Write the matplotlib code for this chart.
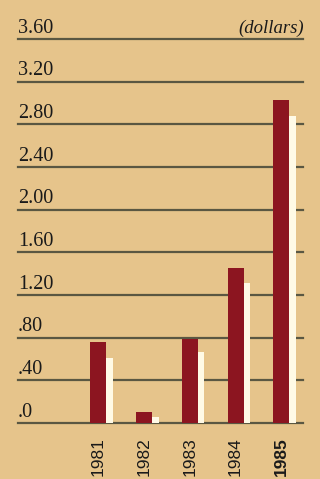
import matplotlib.pyplot as plt
import numpy as np

# ---------------------------------------
# Data
# ---------------------------------------
years = ["1981", "1982", "1983", "1984", "1985"]
series_a = [0.76, 0.10, 0.79, 1.45, 3.03]   # dark bars
series_b = [0.61, 0.06, 0.67, 1.31, 2.88]   # light bars
ytick_vals = [0.0, 0.4, 0.8, 1.2, 1.6, 2.0, 2.4, 2.8, 3.2, 3.6]
ytick_labels = [".0", ".40", ".80", "1.20", "1.60", "2.00", "2.40", "2.80", "3.20", "3.60"]

bg = "#E6C48B"
dark = "#8C1520"
light = "#FFFAE6"
line_col = "#5A5742"

plt.rcParams["font.family"] = ["Liberation Serif", "DejaVu Serif"]

fig = plt.figure(figsize=(3.2, 4.79), dpi=100, facecolor=bg)
ax = fig.add_axes([18 / 320, 1 - 423 / 479, 285 / 320, 384 / 479])
ax.set_facecolor(bg)

x = np.arange(len(years))
wa, wb = 0.35, 0.146
ax.bar(x, series_a, width=wa, color=dark, zorder=3)
ax.bar(x + wa / 2 + wb / 2, series_b, width=wb, color=light, zorder=3)

ax.set_xlim(-1.755, 4.474)
ax.set_ylim(0, 3.6)

# gridlines with labels sitting above them
for v, lab in zip(ytick_vals, ytick_labels):
    ax.axhline(v, color=line_col, lw=1.6, zorder=1, clip_on=False)
    ax.annotate(lab, (0, v), xycoords=("axes fraction", "data"),
                xytext=(0, 4.5), textcoords="offset points",
                ha="left", va="baseline", fontsize=14.5, color="#1a1a1a")

ax.annotate("(dollars)", (1.005, 3.6), xycoords=("axes fraction", "data"),
            xytext=(0, 4.5), textcoords="offset points",
            ha="right", va="baseline", fontsize=13.5, style="italic", color="#1a1a1a")

ax.set_yticks([])
ax.set_xticks(x)
ax.set_xticklabels(years, rotation=90, fontsize=12.5, color="#1a1a1a",
                   family=["Liberation Sans", "DejaVu Sans"])
ax.get_xticklabels()[-1].set_fontweight("bold")
ax.tick_params(axis="x", length=0, pad=10)
for s in ax.spines.values():
    s.set_visible(False)

fig.savefig("out.png", dpi=100, facecolor=bg)
